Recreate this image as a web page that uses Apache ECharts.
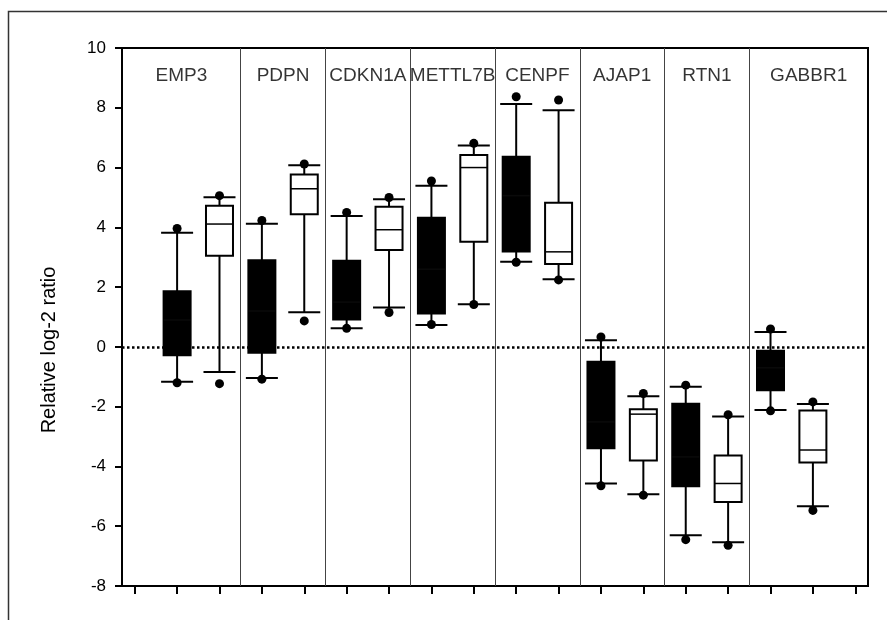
<!DOCTYPE html>
<html>
<head>
<meta charset="utf-8">
<script src="https://cdn.jsdelivr.net/npm/echarts@6/dist/echarts.min.js"></script>
<style>
  html, body { margin: 0; padding: 0; background: #fff; }
  #chart { width: 887px; height: 620px; }
</style>
</head>
<body>
<div id="chart"></div>
<script>
// genes and the section borders on the x axis
const genes = ['EMP3', 'PDPN', 'CDKN1A', 'METTL7B', 'CENPF', 'AJAP1', 'RTN1', 'GABBR1'];
const sectionBounds = [-0.3, 2.5, 4.5, 6.5, 8.5, 10.5, 12.5, 14.5, 17.3];
const xTicks = [0, 1, 2, 3, 4, 5, 6, 7, 8, 9, 10, 11, 12, 13, 14, 15, 16, 17];

// filled (black) boxes
const filledPos = [1, 3, 5, 7, 9, 11, 13, 15];
const filledLow = [-1.17, -1.04, 0.62, 0.73, 2.85, -4.57, -6.30, -2.11];
const filledQ1 = [-0.28, -0.20, 0.92, 1.12, 3.19, -3.39, -4.66, -1.45];
const filledMed = [0.90, 1.20, 1.50, 2.60, 5.06, -2.51, -3.68, -0.70];
const filledQ3 = [1.86, 2.90, 2.88, 4.32, 6.36, -0.50, -1.90, -0.13];
const filledHigh = [3.82, 4.12, 4.38, 5.39, 8.13, 0.22, -1.33, 0.50];
const filledDotHigh = [3.96, 4.23, 4.50, 5.55, 8.37, 0.33, -1.28, 0.60];
const filledDotLow = [-1.20, -1.08, 0.62, 0.75, 2.83, -4.65, -6.45, -2.14];

// open (white) boxes
const openPos = [2, 4, 6, 8, 10, 12, 14, 16];
const openLow = [-0.84, 1.16, 1.32, 1.43, 2.26, -4.93, -6.54, -5.33];
const openQ1 = [3.05, 4.44, 3.24, 3.52, 2.77, -3.80, -5.19, -3.87];
const openMed = [4.11, 5.29, 3.92, 6.00, 3.18, -2.25, -4.57, -3.45];
const openQ3 = [4.72, 5.77, 4.69, 6.42, 4.82, -2.09, -3.63, -2.13];
const openHigh = [5.01, 6.08, 4.94, 6.74, 7.92, -1.65, -2.33, -1.91];
const openDotHigh = [5.06, 6.12, 5.00, 6.81, 8.26, -1.56, -2.27, -1.84];
const openDotLow = [-1.23, 0.87, 1.15, 1.42, 2.24, -4.96, -6.64, -5.47];

const labelY = 9.08;
const font = '"Liberation Sans", Arial, sans-serif';

function boxRows(pos, lo, q1, med, q3, hi) {
  return pos.map((p, i) => [p, lo[i], q1[i], med[i], q3[i], hi[i]]);
}

function dotRows(pos, hi, lo) {
  return pos.map((p, i) => [p, hi[i]]).concat(pos.map((p, i) => [p, lo[i]]));
}

function boxRenderer(fill, medColor) {
  return function (params, api) {
    const x = api.value(0);
    const lo = api.coord([x, api.value(1)]);
    const q1 = api.coord([x, api.value(2)]);
    const md = api.coord([x, api.value(3)]);
    const q3 = api.coord([x, api.value(4)]);
    const hi = api.coord([x, api.value(5)]);
    const bw = 27, cw = 32;
    const cx = lo[0];
    const st = { stroke: '#000', lineWidth: 2 };
    return {
      type: 'group',
      children: [
        { type: 'line', shape: { x1: cx, y1: lo[1], x2: cx, y2: q1[1] }, style: st },
        { type: 'line', shape: { x1: cx, y1: q3[1], x2: cx, y2: hi[1] }, style: st },
        { type: 'line', shape: { x1: cx - cw / 2, y1: lo[1], x2: cx + cw / 2, y2: lo[1] }, style: st },
        { type: 'line', shape: { x1: cx - cw / 2, y1: hi[1], x2: cx + cw / 2, y2: hi[1] }, style: st },
        { type: 'rect', shape: { x: cx - bw / 2, y: q3[1], width: bw, height: q1[1] - q3[1] },
          style: { fill: fill, stroke: '#000', lineWidth: 2 } },
        { type: 'line', shape: { x1: cx - bw / 2, y1: md[1], x2: cx + bw / 2, y2: md[1] },
          style: { stroke: medColor, lineWidth: 1.5 } }
      ]
    };
  };
}

const labelData = genes.map((g, i) => ({
  name: g,
  value: [(sectionBounds[i] + sectionBounds[i + 1]) / 2, labelY]
}));

const separators = sectionBounds.slice(1, -1).map(v => ({ xAxis: v }));

const chart = echarts.init(document.getElementById('chart'));
chart.setOption({
  animation: false,
  backgroundColor: '#fff',
  textStyle: { fontFamily: font, color: '#000' },
  graphic: [{
    type: 'rect', left: 6, top: 9, z: -1, silent: true,
    shape: { width: 1000, height: 1000 },
    style: { fill: 'none', stroke: '#333', lineWidth: 1.5 }
  }],
  grid: {
    left: 122, right: 19, top: 48, bottom: 34,
    show: true, borderColor: '#000', borderWidth: 2, backgroundColor: 'transparent'
  },
  xAxis: {
    type: 'value', min: -0.3, max: 17.3,
    axisLine: { onZero: false, lineStyle: { color: '#000', width: 2 } },
    axisTick: { show: true, customValues: xTicks, length: 8, lineStyle: { color: '#000', width: 2 } },
    axisLabel: { show: false },
    splitLine: { show: false }
  },
  yAxis: {
    type: 'value', min: -8, max: 10, interval: 2,
    name: 'Relative log-2 ratio',
    nameLocation: 'middle',
    nameGap: 63,
    nameTextStyle: { fontSize: 20, color: '#000', fontFamily: font, padding: [0, 66, 0, 0] },
    axisLine: { onZero: false, lineStyle: { color: '#000', width: 2 } },
    axisTick: { length: 7, lineStyle: { color: '#000', width: 2 } },
    axisLabel: { fontSize: 17, color: '#000', margin: 16, fontFamily: font },
    splitLine: { show: false }
  },
  series: [
    {
      name: 'labels',
      type: 'scatter',
      z: 1,
      symbolSize: 0,
      data: labelData,
      label: {
        show: true, position: 'inside', formatter: '{b}',
        fontSize: 19, color: '#000', fontFamily: font
      },
      markLine: {
        silent: true,
        symbol: ['none', 'none'],
        label: { show: false },
        lineStyle: { color: '#444', width: 1, type: 'solid' },
        data: separators.concat([{
          yAxis: 0,
          lineStyle: { color: '#000', width: 2.5, type: [2.5, 2.5] }
        }])
      }
    },
    {
      name: 'filled',
      type: 'custom',
      z: 3,
      renderItem: boxRenderer('#000', '#0a0a0a'),
      encode: { x: 0, y: [1, 2, 3, 4, 5] },
      data: boxRows(filledPos, filledLow, filledQ1, filledMed, filledQ3, filledHigh)
    },
    {
      name: 'open',
      type: 'custom',
      z: 3,
      renderItem: boxRenderer('#fff', '#000'),
      encode: { x: 0, y: [1, 2, 3, 4, 5] },
      data: boxRows(openPos, openLow, openQ1, openMed, openQ3, openHigh)
    },
    {
      name: 'dots',
      type: 'scatter',
      z: 4,
      symbol: 'circle',
      symbolSize: 9,
      itemStyle: { color: '#000', opacity: 1 },
      data: dotRows(filledPos, filledDotHigh, filledDotLow).concat(dotRows(openPos, openDotHigh, openDotLow))
    }
  ]
});
</script>
</body>
</html>
